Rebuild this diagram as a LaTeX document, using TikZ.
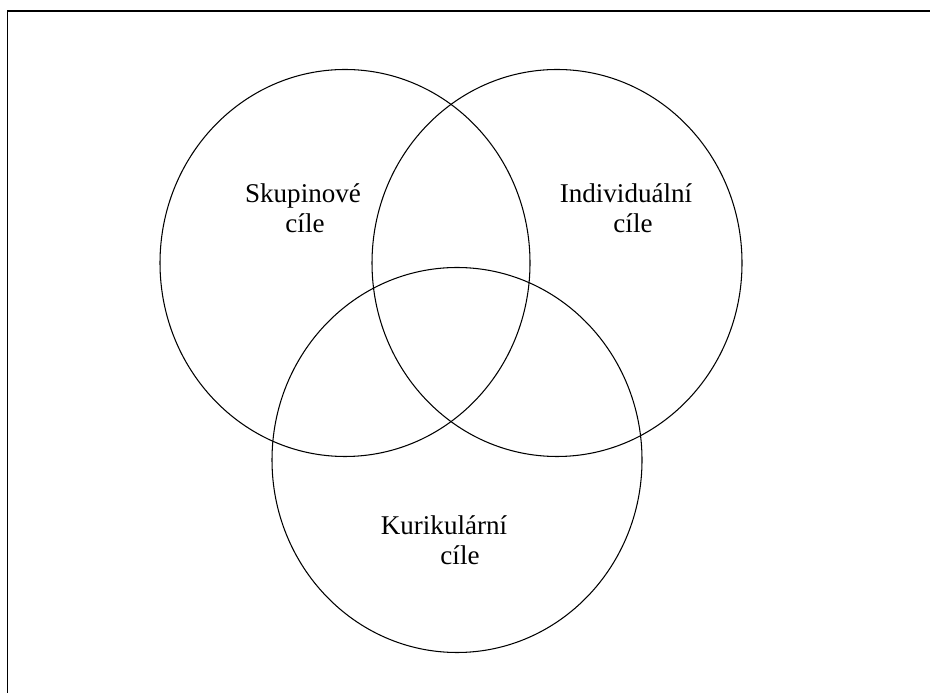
\documentclass[tikz,border=0pt]{standalone}
\usepackage{fontspec}
\setmainfont{Liberation Serif}
\begin{document}
\begin{tikzpicture}[lbl/.style={anchor=base,inner sep=0pt,font=\fontsize{15.4}{17}\selectfont}]
\useasboundingbox (0,0) rectangle (18.6,13.86);
\coordinate (tl) at (0.15,13.64);
\coordinate (tr) at (18.6,13.64);
\coordinate (bl) at (0.15,0);
\draw[line width=1.1pt] (tr) -- (tl) -- (bl);
\draw[line width=0.6pt] (6.9,8.6) ellipse (3.7 and 3.87);
\draw[line width=0.6pt] (11.14,8.6) ellipse (3.7 and 3.87);
\draw[line width=0.6pt] (9.14,4.66) ellipse (3.7 and 3.85);
\node[lbl] (s1) at (6.06,9.8) {Skupinové};
\node[lbl] (s2) at (6.1,9.2) {cíle};
\node[lbl] (i1) at (12.52,9.8) {Individuální};
\node[lbl] (i2) at (12.66,9.2) {cíle};
\node[lbl] (k1) at (8.88,3.16) {Kurikulární};
\node[lbl] (k2) at (9.2,2.56) {cíle};
\end{tikzpicture}
\end{document}
